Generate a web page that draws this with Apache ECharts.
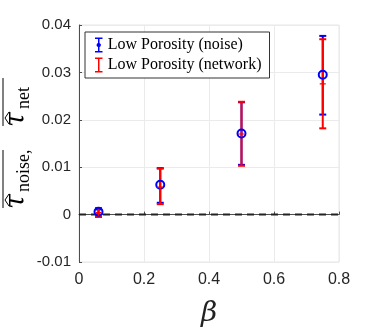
<!DOCTYPE html>
<html>
<head>
<meta charset="utf-8">
<script src="https://cdn.jsdelivr.net/npm/echarts@6/dist/echarts.min.js"></script>
<style>
  html, body { margin: 0; padding: 0; background: #fff; }
  #chart { width: 374px; height: 332px; }
</style>
</head>
<body>
<div id="chart"></div>
<script>
  // beta values on x
  var betaVals = [0.06, 0.25, 0.5, 0.75]
  // Low Porosity (noise): mean, lower and upper ends of the error bar
  var noiseMean = [0.0006, 0.0063, 0.0171, 0.0295]
  var noiseLow = [0.0000, 0.0025, 0.0105, 0.0211]
  var noiseHigh = [0.0011, 0.0098, 0.0237, 0.0377]
  // Low Porosity (network)
  var netMean = [0.0004, 0.0058, 0.0170, 0.0276]
  var netLow = [-0.0005, 0.0022, 0.0103, 0.0182]
  var netHigh = [0.0014, 0.0097, 0.0238, 0.0370]
  // dashed reference line at zero
  var zeroLineX = [0, 0.8]
  var zeroLineY = [0, 0]
  var xTicks = [0, 0.2, 0.4, 0.6, 0.8]
  var yTicks = [-0.01, 0, 0.01, 0.02, 0.03, 0.04]

  var chart = echarts.init(document.getElementById('chart'))

  function barData(lo, hi) {
    return betaVals.map(function (b, i) { return [b, lo[i], hi[i]] })
  }
  function pointData(m) {
    return betaVals.map(function (b, i) { return [b, m[i]] })
  }
  // error bar: vertical line plus caps
  function makeBarRender(color) {
    return function (params, api) {
      var top = api.coord([api.value(0), api.value(2)])
      var bot = api.coord([api.value(0), api.value(1)])
      var w = 3.5
      var st = { stroke: color, lineWidth: 2 }
      return {
        type: 'group',
        children: [
          { type: 'line', shape: { x1: top[0], y1: top[1], x2: bot[0], y2: bot[1] }, style: st },
          { type: 'line', shape: { x1: top[0] - w, y1: top[1], x2: top[0] + w, y2: top[1] }, style: st },
          { type: 'line', shape: { x1: bot[0] - w, y1: bot[1], x2: bot[0] + w, y2: bot[1] }, style: st }
        ]
      }
    }
  }

  var iconNoise = 'path://M0,0h10v2h-4v5.2a3,3 0 0,1 0,5.6v5.2h4v2h-10v-2h4v-5.2a3,3 0 0,1 0,-5.6v-5.2h-4z'
  var iconNet = 'path://M0,0h10v2h-4v16h4v2h-10v-2h4v-16h-4z'
  var asterisk = 'path://M4,0h2v10h-2z M0,4h10v2h-10z'

  var serif = 'DejaVu Serif'
  var tickFont = 'Liberation Sans'
  var tauStyle = { fontFamily: serif, fontStyle: 'italic', fontSize: 27, fill: '#000', verticalAlign: 'bottom' }
  var subStyle = { fontFamily: 'Liberation Serif', fontSize: 18, fill: '#000', verticalAlign: 'bottom' }
  var lineSt = { stroke: '#000', lineWidth: 1 }

  var option = {
    animation: false,
    grid: {
      left: 79, right: 35, top: 25, bottom: 70, outerBoundsMode: 'none',
      show: true, borderColor: '#e6e6e6', borderWidth: 1
    },
    xAxis: {
      type: 'value', min: xTicks[0], max: xTicks[xTicks.length - 1], interval: 0.2,
      name: 'β', nameLocation: 'middle', nameGap: 38,
      nameTextStyle: { fontFamily: serif, fontStyle: 'italic', fontSize: 28, color: '#222' },
      axisLine: { show: true, lineStyle: { color: '#4d4d4d', width: 1 } },
      axisTick: { show: true, inside: true, length: 3, lineStyle: { color: '#4d4d4d' } },
      splitLine: { show: true, lineStyle: { color: '#ebebeb', width: 1 } },
      axisLabel: {
        fontFamily: tickFont, fontSize: 16, color: '#262626', margin: 10,
        formatter: function (v) { return v === 0 ? '0' : v.toFixed(1) }
      }
    },
    yAxis: {
      type: 'value', min: yTicks[0], max: yTicks[yTicks.length - 1], interval: 0.01,
      axisLine: { show: true, lineStyle: { color: '#4d4d4d', width: 1 } },
      axisTick: { show: true, inside: true, length: 3, lineStyle: { color: '#4d4d4d' } },
      splitLine: { show: true, lineStyle: { color: '#ebebeb', width: 1 } },
      axisLabel: {
        fontFamily: tickFont, fontSize: 15, color: '#262626', margin: 8,
        formatter: function (v) { return Math.abs(v) < 1e-9 ? '0' : v.toFixed(2) }
      }
    },
    legend: {
      orient: 'vertical', left: 85, top: 32,
      padding: [5, 8, 5, 10], itemGap: 4,
      itemWidth: 8, itemHeight: 15,
      borderColor: '#333', borderWidth: 1, backgroundColor: '#fff',
      textStyle: { fontFamily: 'Liberation Serif', fontSize: 16, color: '#000' },
      data: [
        { name: 'Low Porosity (noise)', icon: iconNoise, itemStyle: { color: '#0000ff', borderWidth: 0 } },
        { name: 'Low Porosity (network)', icon: iconNet, itemStyle: { color: '#ff0000', borderWidth: 0 } }
      ]
    },
    graphic: [{
      type: 'group', x: 20, y: 142, rotation: Math.PI / 2,
      children: [
        { type: 'line', shape: { x1: -66, y1: -17, x2: -8, y2: -17 }, style: lineSt },
        { type: 'polyline', shape: { points: [[-64, -11], [-58, -15], [-52, -11]] }, style: lineSt },
        { type: 'text', x: -67, y: 10, style: Object.assign({ text: 'τ' }, tauStyle) },
        { type: 'text', x: -50, y: 13, style: Object.assign({ text: 'noise,' }, subStyle) },
        { type: 'line', shape: { x1: 16, y1: -17, x2: 64, y2: -17 }, style: lineSt },
        { type: 'polyline', shape: { points: [[18, -11], [24, -15], [30, -11]] }, style: lineSt },
        { type: 'text', x: 15, y: 10, style: Object.assign({ text: 'τ' }, tauStyle) },
        { type: 'text', x: 33, y: 13, style: Object.assign({ text: 'net' }, subStyle) }
      ]
    }],
    series: [
      {
        type: 'line', silent: true, symbol: 'none', z: 2,
        data: zeroLineX.map(function (x, i) { return [x, zeroLineY[i]] }),
        lineStyle: { color: '#222', width: 2, type: [7, 5] }
      },
      {
        type: 'custom', name: 'Low Porosity (noise)', z: 3,
        renderItem: makeBarRender('#0000ff'),
        data: barData(noiseLow, noiseHigh)
      },
      {
        type: 'custom', name: 'Low Porosity (network)', z: 4,
        renderItem: makeBarRender('#ff0000'),
        data: barData(netLow, netHigh)
      },
      {
        type: 'scatter', name: 'Low Porosity (noise)', z: 5,
        symbol: 'circle', symbolSize: 8,
        itemStyle: { color: 'rgba(0,0,0,0)', borderColor: '#0000ff', borderWidth: 2, opacity: 1 },
        data: pointData(noiseMean)
      },
      {
        type: 'scatter', name: 'Low Porosity (network)', z: 6,
        symbol: asterisk, symbolSize: 6,
        itemStyle: { color: '#ff0000', opacity: 1 },
        data: pointData(netMean)
      }
    ]
  }
  chart.setOption(option)
</script>
</body>
</html>
